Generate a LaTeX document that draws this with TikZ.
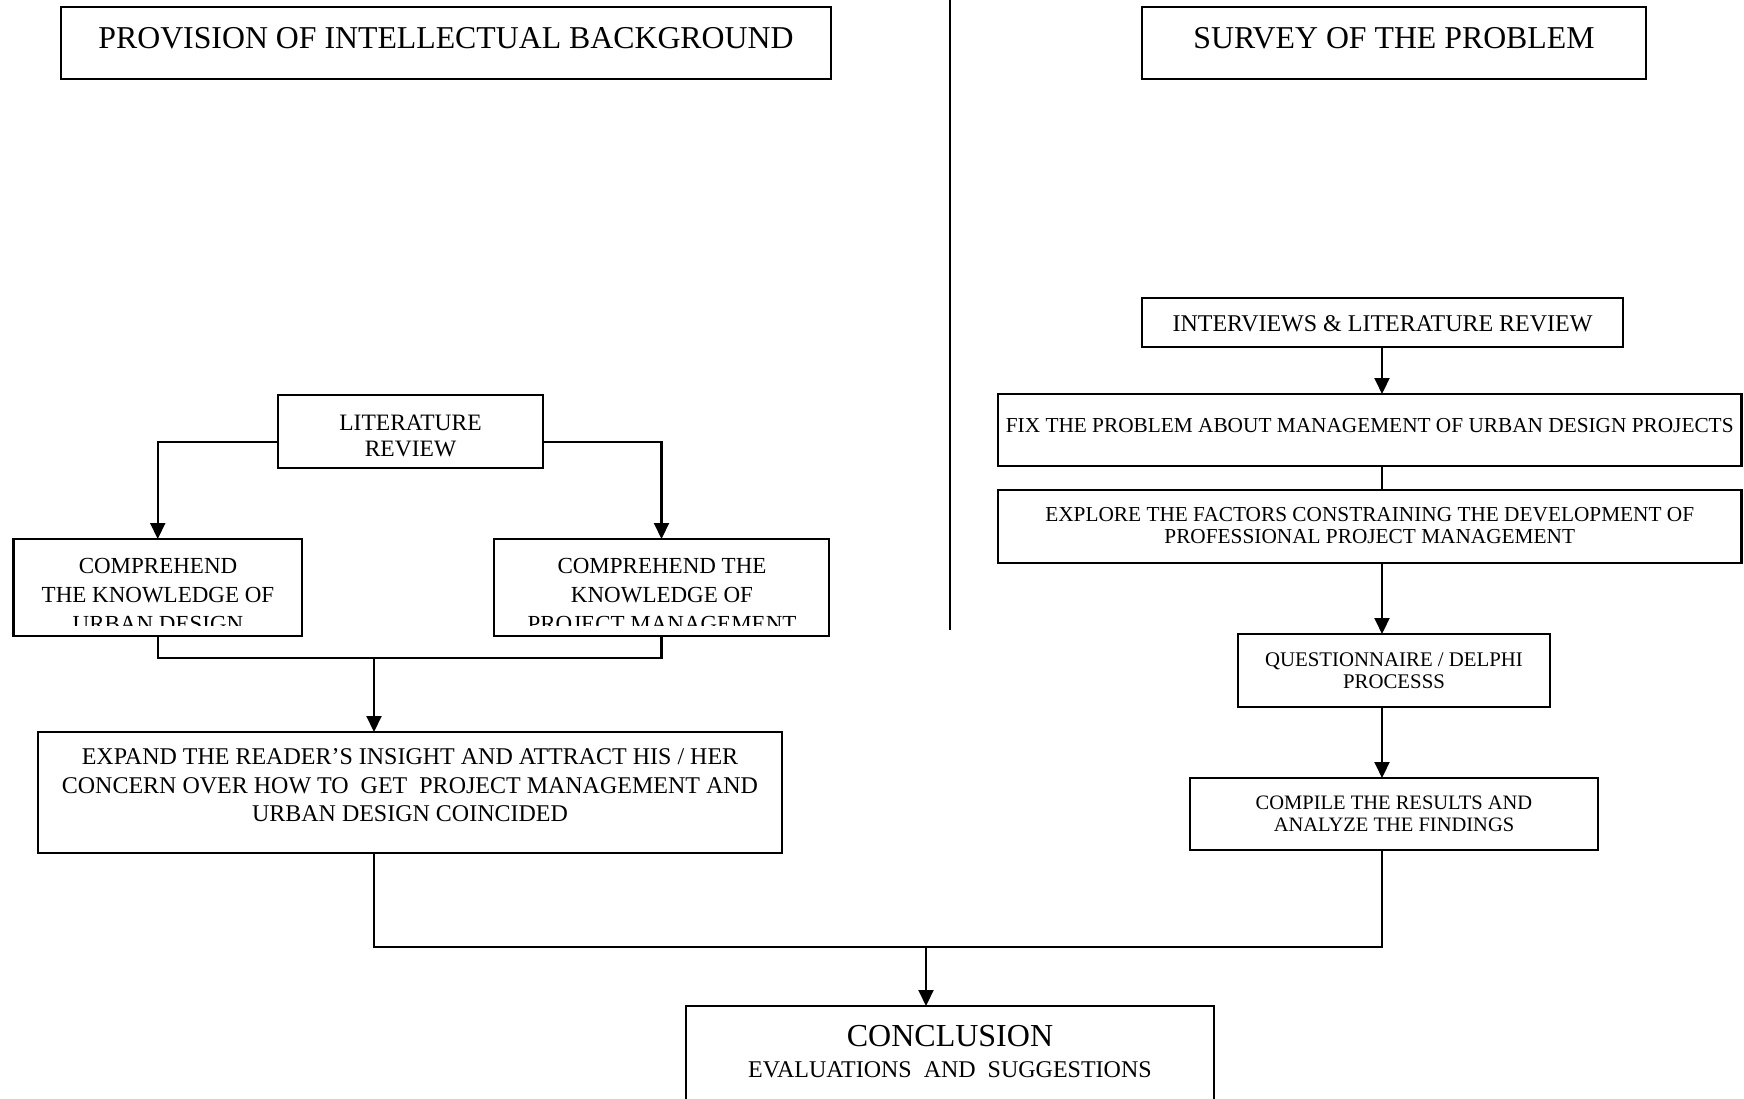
\documentclass[tikz,border=0pt]{standalone}
\usepackage{fontspec}
\setmainfont{Liberation Serif}
\usetikzlibrary{arrows.meta}
\newcommand\fsz[2]{\fontsize{#1}{#2}\selectfont}

\tikzset{
  box/.style={draw, line width=2.6pt, rectangle, inner sep=0pt, outer sep=0pt},
  txt/.style={inner sep=0pt, outer sep=0pt, align=center},
  link/.style={line width=2.1pt},
  arr/.style={link, -{Triangle[length=16pt,width=15pt]}},
  divider/.style={line width=1.5pt},
}

\begin{document}
\begin{tikzpicture}[x=1pt,y=-1pt]
\fill[white] (0,0) rectangle (1744,1099);
\useasboundingbox (0,0) rectangle (1744,1099);
\clip (0,0) rectangle (1744,1099);

% column divider
\coordinate (divtop) at (950,0);
\coordinate (divbot) at (950,630);
\draw[divider] (divtop) -- (divbot);

% ---- boxes ----
\node[box, minimum width=770pt, minimum height=72pt] (prov) at (446,43) {};
\node[box, minimum width=504pt, minimum height=72pt] (surv) at (1394,43) {};

\node[box, minimum width=481pt, minimum height=49pt] (intv) at (1382.5,322.5) {};
\node[box, minimum width=743.5pt, minimum height=72pt] (fix) at (1369.75,430) {};
\node[box, minimum width=743.5pt, minimum height=73pt] (expl) at (1369.75,526.5) {};
\node[box, minimum width=312pt, minimum height=73pt] (quest) at (1394,670.5) {};
\node[box, minimum width=408pt, minimum height=72pt] (comp) at (1394,814) {};

\node[box, minimum width=265pt, minimum height=73pt] (lit) at (410.5,431.5) {};
\node[box, minimum width=288.5pt, minimum height=97pt] (ud) at (157.75,587.5) {};
\node[box, minimum width=335pt, minimum height=97pt] (pm) at (661.5,587.5) {};
\node[box, minimum width=744pt, minimum height=121pt] (exp) at (410,792.5) {};

\node[box, minimum width=528pt, minimum height=114pt] (concl) at (950,1063) {};

% ---- texts ----
\node[txt, anchor=base, font=\fsz{31.8}{36}] (prov-t) at (446,48.3) {PROVISION OF INTELLECTUAL BACKGROUND};
\node[txt, anchor=base, font=\fsz{31.8}{36}] (surv-t) at (1394,48.3) {SURVEY OF THE PROBLEM};

\node[txt, anchor=base, font=\fsz{24}{28}] (intv-t) at (1382.5,331.7) {INTERVIEWS \& LITERATURE REVIEW};
\node[txt, anchor=base, font=\fsz{21.3}{24}] (fix-t) at (1369.75,432.3) {FIX THE PROBLEM ABOUT MANAGEMENT OF URBAN DESIGN PROJECTS};
\node[txt, anchor=north, font=\fsz{21.3}{22.3}] (expl-t) at (1369.75,507.3)
  {EXPLORE THE FACTORS CONSTRAINING THE DEVELOPMENT OF\\PROFESSIONAL PROJECT MANAGEMENT};
\node[txt, anchor=north, font=\fsz{20.8}{21.7}] (quest-t) at (1394,652.7)
  {QUESTIONNAIRE / DELPHI\\PROCESSS};
\node[txt, anchor=north, font=\fsz{20.5}{22}] (comp-t) at (1394,796.2)
  {COMPILE THE RESULTS AND\\ANALYZE THE FINDINGS};

\node[txt, anchor=north, font=\fsz{23.5}{25.7}] (lit-t) at (410.5,415.2)
  {LITERATURE\\REVIEW};

% the last line of these two boxes is cut off by the text frame
\begin{scope}
  \clip (0,530) rectangle (1744,625.5);
  \node[txt, anchor=north, font=\fsz{23}{29}] (ud-t) at (158,557.8)
    {COMPREHEND\\THE KNOWLEDGE OF\\URBAN DESIGN};
  \node[txt, anchor=north, font=\fsz{23}{29}] (pm-t) at (662,557.8)
    {COMPREHEND THE\\KNOWLEDGE OF\\PROJECT MANAGEMENT};
\end{scope}

\node[txt, anchor=north, font=\fsz{24}{28.3}] (exp-t) at (410,748.8)
  {EXPAND THE READER’S INSIGHT AND ATTRACT HIS / HER\\
   CONCERN OVER HOW TO\ \ GET\ \ PROJECT MANAGEMENT AND\\
   URBAN DESIGN COINCIDED};

\node[txt, anchor=base, font=\fsz{32}{36}] (concl-t) at (950,1046.7) {CONCLUSION};
\node[txt, anchor=base, font=\fsz{24}{28}] (concl-s) at (950,1077.3) {EVALUATIONS\ \ AND\ \ SUGGESTIONS};

% ---- connectors, left column ----
\draw[arr] ([yshift=-10.5pt]lit.west) -| (ud.north);
\draw[arr] ([yshift=-10.5pt]lit.east) -| (pm.north);

\coordinate (m1) at (374,658);
\draw[link] (ud.south) -- (ud.south |- m1) -- (pm.south |- m1) -- (pm.south);
\draw[arr] (m1) -- (m1 |- exp.north);

% ---- connectors, right column ----
\coordinate (rx) at (1382,0);
\draw[arr] (rx |- intv.south) -- (rx |- fix.north);
\draw[link] (rx |- fix.south) -- (rx |- expl.north);
\draw[arr] (rx |- expl.south) -- (rx |- quest.north);
\draw[arr] (rx |- quest.south) -- (rx |- comp.north);

% ---- joining into the conclusion ----
\coordinate (jl) at (374,947);
\coordinate (jr) at (1382,947);
\coordinate (jc) at (926,947);
\draw[link] (jl |- exp.south) -- (jl) -- (jr) -- (jr |- comp.south);
\draw[arr] (jc) -- (jc |- concl.north);
\end{tikzpicture}
\end{document}
